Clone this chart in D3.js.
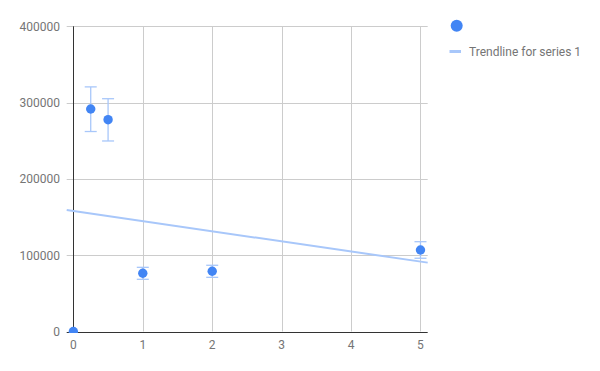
<!DOCTYPE html>
<html><head><meta charset="utf-8">
<script src="https://cdn.jsdelivr.net/npm/d3@7"></script>
<style>body{margin:0;background:#fff;}text{font-family:Roboto,Arial,sans-serif;}</style>
</head><body>
<svg id="c" width="600" height="371"></svg>
<script>
const xValues = [0, 0.25, 0.5, 1, 2, 5];
const yValues = [0, 291600, 277600, 76300, 78900, 106800];
const errLow  = [0, 262100, 249700, 68400, 71000, 96000];
const errHigh = [0, 320600, 305100, 84100, 86800, 117700];
const xTicks = [0, 1, 2, 3, 4, 5];
const yTicks = [0, 100000, 200000, 300000, 400000];
const legendLabels = ["", "Trendline for series 1"];

const svg = d3.select("#c");
const x = d3.scaleLinear().domain([-0.096, 5.104]).range([66.7, 427.7]);
const y = d3.scaleLinear().domain([0, 400000]).range([331.5, 26.3]);
const pointColor = "#4285F4", lightColor = "#a8c7fa", txt = "#757575";

svg.append("defs").append("clipPath").attr("id", "clip").append("rect")
  .attr("x", 0).attr("y", 0).attr("width", 600).attr("height", Math.round(y(0)) + 1);

// horizontal gridlines
svg.append("g").selectAll("line").data(yTicks.filter(d => d > 0)).join("line")
  .attr("x1", x.range()[0]).attr("x2", x.range()[1])
  .attr("y1", d => Math.round(y(d)) + 0.5).attr("y2", d => Math.round(y(d)) + 0.5)
  .attr("stroke", "#cccccc");
// vertical gridlines
svg.append("g").selectAll("line").data(xTicks.filter(d => d > 0)).join("line")
  .attr("x1", d => Math.round(x(d)) + 0.5).attr("x2", d => Math.round(x(d)) + 0.5)
  .attr("y1", y.range()[1]).attr("y2", y.range()[0])
  .attr("stroke", "#cccccc");
// baselines
svg.append("line").attr("x1", x.range()[0]).attr("x2", x.range()[1])
  .attr("y1", Math.round(y(0)) + 0.5).attr("y2", Math.round(y(0)) + 0.5).attr("stroke", "#333");
svg.append("line").attr("x1", Math.round(x(0)) + 0.5).attr("x2", Math.round(x(0)) + 0.5)
  .attr("y1", y.range()[1]).attr("y2", y.range()[0]).attr("stroke", "#333");

// axis labels
svg.append("g").selectAll("text").data(yTicks).join("text")
  .attr("x", 60).attr("y", d => y(d) + 4.5).attr("text-anchor", "end")
  .attr("font-size", 12).attr("fill", txt).text(d => d);
svg.append("g").selectAll("text").data(xTicks).join("text")
  .attr("x", d => x(d)).attr("y", 349).attr("text-anchor", "middle")
  .attr("font-size", 12).attr("fill", txt).text(d => d);

// trendline (least squares from data)
const mx = d3.mean(xValues), my = d3.mean(yValues);
const slope = d3.sum(xValues, (v, i) => (v - mx) * (yValues[i] - my)) / d3.sum(xValues, v => (v - mx) ** 2);
const icpt = my - slope * mx;
const [x0, x1] = x.domain();
svg.append("line").attr("x1", x(x0)).attr("y1", y(icpt + slope * x0))
  .attr("x2", x(x1)).attr("y2", y(icpt + slope * x1))
  .attr("stroke", lightColor).attr("stroke-width", 2);

// error bars
const eb = svg.append("g").attr("stroke", lightColor).attr("stroke-width", 1.3);
xValues.forEach((v, i) => {
  if (errHigh[i] === errLow[i]) return;
  const cx = x(v);
  eb.append("line").attr("x1", cx).attr("x2", cx).attr("y1", y(errLow[i])).attr("y2", y(errHigh[i]));
  eb.append("line").attr("x1", cx - 6).attr("x2", cx + 6).attr("y1", y(errLow[i])).attr("y2", y(errLow[i]));
  eb.append("line").attr("x1", cx - 6).attr("x2", cx + 6).attr("y1", y(errHigh[i])).attr("y2", y(errHigh[i]));
});

// points
svg.append("g").attr("clip-path", "url(#clip)").selectAll("circle").data(xValues).join("circle")
  .attr("cx", d => x(d)).attr("cy", (d, i) => y(yValues[i])).attr("r", 4.7).attr("fill", pointColor);

// legend
svg.append("circle").attr("cx", 456.7).attr("cy", 25.7).attr("r", 6).attr("fill", pointColor);
svg.append("text").attr("x", 469).attr("y", 30).attr("font-size", 12).attr("fill", txt).text(legendLabels[0]);
svg.append("line").attr("x1", 449.5).attr("x2", 461).attr("y1", 51.5).attr("y2", 51.5)
  .attr("stroke", lightColor).attr("stroke-width", 3);
svg.append("text").attr("x", 469).attr("y", 55.8).attr("font-size", 12).attr("fill", txt).text(legendLabels[1]);
</script>
</body></html>
